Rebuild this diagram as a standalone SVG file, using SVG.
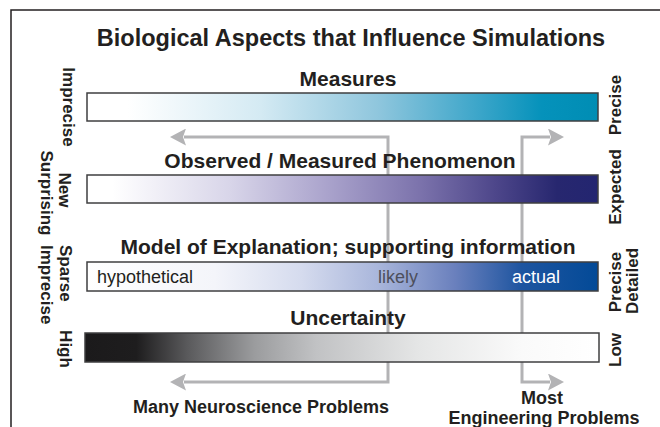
<svg xmlns="http://www.w3.org/2000/svg" width="660" height="427" viewBox="0 0 660 427">
<style>
text{font-family:"Liberation Sans",Arial,sans-serif;fill:#231f20}
.title{font-size:23.5px;font-weight:bold}
.hdr{font-size:21px;font-weight:bold}
.side{font-size:17px;font-weight:bold}
.bot{font-size:18px;font-weight:bold}
.in{font-size:18px}
.bar{stroke:#3f3f40;stroke-width:1.5}
.conn{fill:none;stroke:#b3b3b5;stroke-width:3}
</style>
<defs>
<marker id="ah" markerUnits="userSpaceOnUse" markerWidth="16" markerHeight="17" viewBox="0 0 16 17" refX="2" refY="8.5" orient="auto-start-reverse">
<path d="M0 0 L16 8.5 L0 17 L3 8.5 Z" fill="#b3b3b5"/>
</marker>
<linearGradient id="g1" x1="0" y1="0" x2="1" y2="0">
<stop offset="0" stop-color="#ffffff"/><stop offset="0.08" stop-color="#ffffff"/><stop offset="0.34" stop-color="#d4eaf3"/><stop offset="0.57" stop-color="#8fc6dd"/><stop offset="0.77" stop-color="#3aa5c9"/><stop offset="0.89" stop-color="#0592bb"/><stop offset="1" stop-color="#008db4"/>
</linearGradient>
<linearGradient id="g2" x1="0" y1="0" x2="1" y2="0">
<stop offset="0" stop-color="#ffffff"/><stop offset="0.05" stop-color="#ffffff"/><stop offset="0.28" stop-color="#d8d5e9"/><stop offset="0.47" stop-color="#aaa3cc"/><stop offset="0.65" stop-color="#7c73ac"/><stop offset="0.8" stop-color="#4d468a"/><stop offset="0.92" stop-color="#27276f"/><stop offset="1" stop-color="#232570"/>
</linearGradient>
<linearGradient id="g3" x1="0" y1="0" x2="1" y2="0">
<stop offset="0" stop-color="#ffffff"/><stop offset="0.25" stop-color="#f4f5fa"/><stop offset="0.42" stop-color="#d5dbee"/><stop offset="0.57" stop-color="#a9b6db"/><stop offset="0.72" stop-color="#6a80bd"/><stop offset="0.85" stop-color="#1e55a0"/><stop offset="1" stop-color="#034a97"/>
</linearGradient>
<linearGradient id="g4" x1="0" y1="0" x2="1" y2="0">
<stop offset="0" stop-color="#1b1a1b"/><stop offset="0.1" stop-color="#1e1d1e"/><stop offset="0.2" stop-color="#5a5a5c"/><stop offset="0.33" stop-color="#9b9c9e"/><stop offset="0.45" stop-color="#c1c2c4"/><stop offset="0.65" stop-color="#e5e6e6"/><stop offset="0.85" stop-color="#fafafa"/><stop offset="1" stop-color="#ffffff"/>
</linearGradient>
</defs>
<rect width="660" height="427" fill="#ffffff"/>
<path d="M11 427 V10 H660" fill="none" stroke="#231f20" stroke-width="1.5"/>
<g id="title"><text class="title" x="351" y="46" text-anchor="middle">Biological Aspects that Influence Simulations</text></g>
<g id="connectors">
<path class="conn" d="M184 137 H388 V382 H184" marker-start="url(#ah)" marker-end="url(#ah)"/>
<path class="conn" d="M550 137 H522 V382 H550" marker-start="url(#ah)" marker-end="url(#ah)"/>
</g>
<g id="measures">
<text class="hdr" x="348" y="86" text-anchor="middle">Measures</text>
<rect class="bar" x="87" y="93" width="511" height="28" fill="url(#g1)"/>
</g>
<g id="phenomenon">
<text class="hdr" x="340" y="168" text-anchor="middle">Observed / Measured Phenomenon</text>
<rect class="bar" x="87" y="175" width="511" height="28" fill="url(#g2)"/>
</g>
<g id="model">
<text class="hdr" x="348" y="254" text-anchor="middle">Model of Explanation; supporting information</text>
<rect class="bar" x="87" y="262" width="511" height="29" fill="url(#g3)"/>
<text class="in" x="97" y="283">hypothetical</text>
<text class="in" x="378" y="283" style="fill:#4d4f5c">likely</text>
<text class="in" x="512" y="283" style="fill:#ffffff">actual</text>
</g>
<g id="uncertainty">
<text class="hdr" x="348" y="325" text-anchor="middle">Uncertainty</text>
<rect class="bar" x="85" y="333" width="514" height="29" fill="url(#g4)"/>
</g>
<g id="left-labels">
<text class="side" transform="translate(63,107) rotate(90)" text-anchor="middle">Imprecise</text>
<text class="side" transform="translate(59,190) rotate(90)" text-anchor="middle">New</text>
<text class="side" transform="translate(41,193) rotate(90)" text-anchor="middle">Surprising</text>
<text class="side" transform="translate(60,245) rotate(90)">Sparse</text>
<text class="side" transform="translate(41,245) rotate(90)">Imprecise</text>
<text class="side" transform="translate(60,349) rotate(90)" text-anchor="middle">High</text>
</g>
<g id="right-labels">
<text class="side" transform="translate(621,105) rotate(-90)" text-anchor="middle">Precise</text>
<text class="side" transform="translate(621,187) rotate(-90)" text-anchor="middle">Expected</text>
<text class="side" transform="translate(621,282) rotate(-90)" text-anchor="middle">Precise</text>
<text class="side" transform="translate(638,281) rotate(-90)" text-anchor="middle">Detailed</text>
<text class="side" transform="translate(621,350) rotate(-90)" text-anchor="middle">Low</text>
</g>
<g id="neuro"><text class="bot" x="261" y="413" text-anchor="middle">Many Neuroscience Problems</text></g>
<g id="engineering">
<text class="bot" x="542" y="404" text-anchor="middle">Most</text>
<text class="bot" x="544" y="423.5" text-anchor="middle">Engineering Problems</text>
</g>
</svg>
